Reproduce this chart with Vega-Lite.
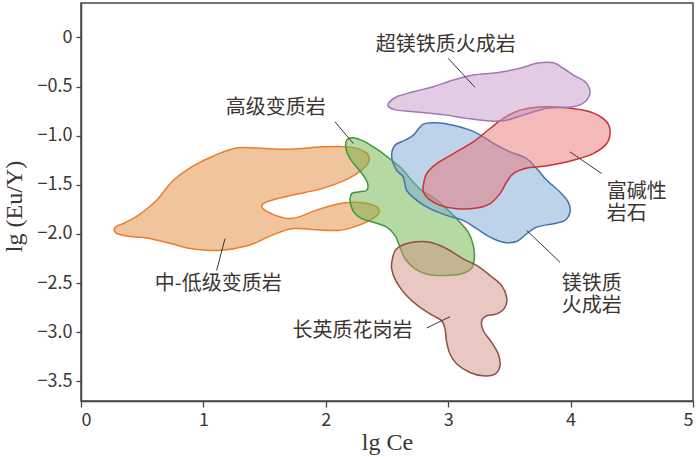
{
  "$schema": "https://vega.github.io/schema/vega-lite/v6.json",
  "width": 612,
  "height": 398,
  "autosize": {"type": "none"},
  "padding": {"left": 81, "top": 3, "right": 7, "bottom": 56},
  "background": "white",
  "config": {
    "view": {"stroke": "#4a4542", "strokeWidth": 1.5},
    "axis": {
      "grid": false,
      "domainColor": "#4a4542",
      "domainWidth": 1.5,
      "tickColor": "#4a4542",
      "tickWidth": 1.3,
      "labelColor": "#3b3632",
      "labelFont": "Noto Sans CJK SC",
      "labelFontSize": 18,
      "titleColor": "#3b3632",
      "titleFont": "Liberation Serif",
      "titleFontSize": 24,
      "titleFontWeight": "normal"
    }
  },
  "datasets": {
    "shapes": [
      {"g": "a_orange", "i": 1, "x": 0.270, "y": -1.957},
      {"g": "a_orange", "i": 2, "x": 0.292, "y": -1.920},
      {"g": "a_orange", "i": 3, "x": 0.359, "y": -1.886},
      {"g": "a_orange", "i": 4, "x": 0.468, "y": -1.811},
      {"g": "a_orange", "i": 5, "x": 0.618, "y": -1.658},
      {"g": "a_orange", "i": 6, "x": 0.741, "y": -1.471},
      {"g": "a_orange", "i": 7, "x": 0.904, "y": -1.318},
      {"g": "a_orange", "i": 8, "x": 1.095, "y": -1.199},
      {"g": "a_orange", "i": 9, "x": 1.285, "y": -1.124},
      {"g": "a_orange", "i": 10, "x": 1.503, "y": -1.131},
      {"g": "a_orange", "i": 11, "x": 1.721, "y": -1.138},
      {"g": "a_orange", "i": 12, "x": 1.967, "y": -1.114},
      {"g": "a_orange", "i": 13, "x": 2.184, "y": -1.114},
      {"g": "a_orange", "i": 14, "x": 2.320, "y": -1.165},
      {"g": "a_orange", "i": 15, "x": 2.355, "y": -1.250},
      {"g": "a_orange", "i": 16, "x": 2.306, "y": -1.335},
      {"g": "a_orange", "i": 17, "x": 2.184, "y": -1.437},
      {"g": "a_orange", "i": 18, "x": 1.967, "y": -1.539},
      {"g": "a_orange", "i": 19, "x": 1.721, "y": -1.607},
      {"g": "a_orange", "i": 20, "x": 1.530, "y": -1.668},
      {"g": "a_orange", "i": 21, "x": 1.476, "y": -1.719},
      {"g": "a_orange", "i": 22, "x": 1.530, "y": -1.778},
      {"g": "a_orange", "i": 23, "x": 1.667, "y": -1.839},
      {"g": "a_orange", "i": 24, "x": 1.775, "y": -1.829},
      {"g": "a_orange", "i": 25, "x": 1.939, "y": -1.750},
      {"g": "a_orange", "i": 26, "x": 2.157, "y": -1.682},
      {"g": "a_orange", "i": 27, "x": 2.347, "y": -1.692},
      {"g": "a_orange", "i": 28, "x": 2.435, "y": -1.750},
      {"g": "a_orange", "i": 29, "x": 2.402, "y": -1.829},
      {"g": "a_orange", "i": 30, "x": 2.266, "y": -1.913},
      {"g": "a_orange", "i": 31, "x": 2.102, "y": -1.964},
      {"g": "a_orange", "i": 32, "x": 1.885, "y": -1.954},
      {"g": "a_orange", "i": 33, "x": 1.721, "y": -1.947},
      {"g": "a_orange", "i": 34, "x": 1.558, "y": -2.015},
      {"g": "a_orange", "i": 35, "x": 1.367, "y": -2.117},
      {"g": "a_orange", "i": 36, "x": 1.122, "y": -2.168},
      {"g": "a_orange", "i": 37, "x": 0.904, "y": -2.151},
      {"g": "a_orange", "i": 38, "x": 0.741, "y": -2.100},
      {"g": "a_orange", "i": 39, "x": 0.550, "y": -2.043},
      {"g": "a_orange", "i": 40, "x": 0.400, "y": -2.025},
      {"g": "a_orange", "i": 41, "x": 0.300, "y": -2.000},

      {"g": "b_green", "i": 1, "x": 2.171, "y": -1.046},
      {"g": "b_green", "i": 2, "x": 2.225, "y": -1.022},
      {"g": "b_green", "i": 3, "x": 2.320, "y": -1.063},
      {"g": "b_green", "i": 4, "x": 2.429, "y": -1.148},
      {"g": "b_green", "i": 5, "x": 2.538, "y": -1.250},
      {"g": "b_green", "i": 6, "x": 2.620, "y": -1.335},
      {"g": "b_green", "i": 7, "x": 2.702, "y": -1.454},
      {"g": "b_green", "i": 8, "x": 2.783, "y": -1.556},
      {"g": "b_green", "i": 9, "x": 2.892, "y": -1.641},
      {"g": "b_green", "i": 10, "x": 3.001, "y": -1.760},
      {"g": "b_green", "i": 11, "x": 3.096, "y": -1.880},
      {"g": "b_green", "i": 12, "x": 3.164, "y": -1.982},
      {"g": "b_green", "i": 13, "x": 3.205, "y": -2.117},
      {"g": "b_green", "i": 14, "x": 3.213, "y": -2.253},
      {"g": "b_green", "i": 15, "x": 3.186, "y": -2.355},
      {"g": "b_green", "i": 16, "x": 3.110, "y": -2.406},
      {"g": "b_green", "i": 17, "x": 2.974, "y": -2.423},
      {"g": "b_green", "i": 18, "x": 2.837, "y": -2.413},
      {"g": "b_green", "i": 19, "x": 2.729, "y": -2.355},
      {"g": "b_green", "i": 20, "x": 2.647, "y": -2.253},
      {"g": "b_green", "i": 21, "x": 2.606, "y": -2.135},
      {"g": "b_green", "i": 22, "x": 2.565, "y": -2.015},
      {"g": "b_green", "i": 23, "x": 2.498, "y": -1.931},
      {"g": "b_green", "i": 24, "x": 2.402, "y": -1.886},
      {"g": "b_green", "i": 25, "x": 2.293, "y": -1.845},
      {"g": "b_green", "i": 26, "x": 2.225, "y": -1.770},
      {"g": "b_green", "i": 27, "x": 2.198, "y": -1.658},
      {"g": "b_green", "i": 28, "x": 2.212, "y": -1.590},
      {"g": "b_green", "i": 29, "x": 2.266, "y": -1.573},
      {"g": "b_green", "i": 30, "x": 2.334, "y": -1.556},
      {"g": "b_green", "i": 31, "x": 2.342, "y": -1.488},
      {"g": "b_green", "i": 32, "x": 2.306, "y": -1.403},
      {"g": "b_green", "i": 33, "x": 2.252, "y": -1.318},
      {"g": "b_green", "i": 34, "x": 2.198, "y": -1.233},
      {"g": "b_green", "i": 35, "x": 2.165, "y": -1.131},

      {"g": "c_brown", "i": 1, "x": 2.579, "y": -2.151},
      {"g": "c_brown", "i": 2, "x": 2.688, "y": -2.090},
      {"g": "c_brown", "i": 3, "x": 2.851, "y": -2.084},
      {"g": "c_brown", "i": 4, "x": 2.988, "y": -2.151},
      {"g": "c_brown", "i": 5, "x": 3.123, "y": -2.253},
      {"g": "c_brown", "i": 6, "x": 3.233, "y": -2.321},
      {"g": "c_brown", "i": 7, "x": 3.342, "y": -2.423},
      {"g": "c_brown", "i": 8, "x": 3.437, "y": -2.526},
      {"g": "c_brown", "i": 9, "x": 3.478, "y": -2.645},
      {"g": "c_brown", "i": 10, "x": 3.464, "y": -2.747},
      {"g": "c_brown", "i": 11, "x": 3.396, "y": -2.814},
      {"g": "c_brown", "i": 12, "x": 3.315, "y": -2.832},
      {"g": "c_brown", "i": 13, "x": 3.274, "y": -2.883},
      {"g": "c_brown", "i": 14, "x": 3.287, "y": -2.985},
      {"g": "c_brown", "i": 15, "x": 3.355, "y": -3.104},
      {"g": "c_brown", "i": 16, "x": 3.409, "y": -3.222},
      {"g": "c_brown", "i": 17, "x": 3.423, "y": -3.342},
      {"g": "c_brown", "i": 18, "x": 3.382, "y": -3.427},
      {"g": "c_brown", "i": 19, "x": 3.287, "y": -3.444},
      {"g": "c_brown", "i": 20, "x": 3.178, "y": -3.410},
      {"g": "c_brown", "i": 21, "x": 3.070, "y": -3.324},
      {"g": "c_brown", "i": 22, "x": 3.015, "y": -3.222},
      {"g": "c_brown", "i": 23, "x": 2.988, "y": -3.104},
      {"g": "c_brown", "i": 24, "x": 2.974, "y": -2.967},
      {"g": "c_brown", "i": 25, "x": 2.947, "y": -2.883},
      {"g": "c_brown", "i": 26, "x": 2.878, "y": -2.832},
      {"g": "c_brown", "i": 27, "x": 2.770, "y": -2.747},
      {"g": "c_brown", "i": 28, "x": 2.661, "y": -2.628},
      {"g": "c_brown", "i": 29, "x": 2.579, "y": -2.492},
      {"g": "c_brown", "i": 30, "x": 2.538, "y": -2.355},
      {"g": "c_brown", "i": 31, "x": 2.547, "y": -2.237},

      {"g": "d_blue", "i": 1, "x": 2.715, "y": -0.995},
      {"g": "d_blue", "i": 2, "x": 2.797, "y": -0.883},
      {"g": "d_blue", "i": 3, "x": 2.906, "y": -0.869},
      {"g": "d_blue", "i": 4, "x": 3.042, "y": -0.893},
      {"g": "d_blue", "i": 5, "x": 3.178, "y": -0.944},
      {"g": "d_blue", "i": 6, "x": 3.287, "y": -1.012},
      {"g": "d_blue", "i": 7, "x": 3.396, "y": -1.097},
      {"g": "d_blue", "i": 8, "x": 3.505, "y": -1.165},
      {"g": "d_blue", "i": 9, "x": 3.641, "y": -1.233},
      {"g": "d_blue", "i": 10, "x": 3.723, "y": -1.335},
      {"g": "d_blue", "i": 11, "x": 3.805, "y": -1.454},
      {"g": "d_blue", "i": 12, "x": 3.913, "y": -1.573},
      {"g": "d_blue", "i": 13, "x": 3.981, "y": -1.676},
      {"g": "d_blue", "i": 14, "x": 3.995, "y": -1.778},
      {"g": "d_blue", "i": 15, "x": 3.954, "y": -1.862},
      {"g": "d_blue", "i": 16, "x": 3.859, "y": -1.896},
      {"g": "d_blue", "i": 17, "x": 3.723, "y": -1.931},
      {"g": "d_blue", "i": 18, "x": 3.641, "y": -1.998},
      {"g": "d_blue", "i": 19, "x": 3.560, "y": -2.077},
      {"g": "d_blue", "i": 20, "x": 3.450, "y": -2.084},
      {"g": "d_blue", "i": 21, "x": 3.342, "y": -2.033},
      {"g": "d_blue", "i": 22, "x": 3.233, "y": -1.947},
      {"g": "d_blue", "i": 23, "x": 3.123, "y": -1.862},
      {"g": "d_blue", "i": 24, "x": 2.988, "y": -1.811},
      {"g": "d_blue", "i": 25, "x": 2.851, "y": -1.743},
      {"g": "d_blue", "i": 26, "x": 2.743, "y": -1.658},
      {"g": "d_blue", "i": 27, "x": 2.661, "y": -1.556},
      {"g": "d_blue", "i": 28, "x": 2.633, "y": -1.420},
      {"g": "d_blue", "i": 29, "x": 2.579, "y": -1.352},
      {"g": "d_blue", "i": 30, "x": 2.538, "y": -1.216},
      {"g": "d_blue", "i": 31, "x": 2.565, "y": -1.097},
      {"g": "d_blue", "i": 32, "x": 2.647, "y": -1.046},

      {"g": "e_red", "i": 1, "x": 2.797, "y": -1.505},
      {"g": "e_red", "i": 2, "x": 2.824, "y": -1.386},
      {"g": "e_red", "i": 3, "x": 2.906, "y": -1.284},
      {"g": "e_red", "i": 4, "x": 3.042, "y": -1.182},
      {"g": "e_red", "i": 5, "x": 3.205, "y": -1.063},
      {"g": "e_red", "i": 6, "x": 3.342, "y": -0.927},
      {"g": "e_red", "i": 7, "x": 3.450, "y": -0.824},
      {"g": "e_red", "i": 8, "x": 3.587, "y": -0.740},
      {"g": "e_red", "i": 9, "x": 3.777, "y": -0.706},
      {"g": "e_red", "i": 10, "x": 3.968, "y": -0.716},
      {"g": "e_red", "i": 11, "x": 4.158, "y": -0.757},
      {"g": "e_red", "i": 12, "x": 4.281, "y": -0.842},
      {"g": "e_red", "i": 13, "x": 4.322, "y": -0.944},
      {"g": "e_red", "i": 14, "x": 4.295, "y": -1.080},
      {"g": "e_red", "i": 15, "x": 4.185, "y": -1.182},
      {"g": "e_red", "i": 16, "x": 4.022, "y": -1.250},
      {"g": "e_red", "i": 17, "x": 3.832, "y": -1.301},
      {"g": "e_red", "i": 18, "x": 3.723, "y": -1.318},
      {"g": "e_red", "i": 19, "x": 3.627, "y": -1.335},
      {"g": "e_red", "i": 20, "x": 3.532, "y": -1.386},
      {"g": "e_red", "i": 21, "x": 3.478, "y": -1.471},
      {"g": "e_red", "i": 22, "x": 3.423, "y": -1.590},
      {"g": "e_red", "i": 23, "x": 3.342, "y": -1.692},
      {"g": "e_red", "i": 24, "x": 3.233, "y": -1.737},
      {"g": "e_red", "i": 25, "x": 3.069, "y": -1.743},
      {"g": "e_red", "i": 26, "x": 2.933, "y": -1.709},
      {"g": "e_red", "i": 27, "x": 2.838, "y": -1.641},
      {"g": "e_red", "i": 28, "x": 2.797, "y": -1.573},

      {"g": "f_purple", "i": 1, "x": 2.511, "y": -0.671},
      {"g": "f_purple", "i": 2, "x": 2.579, "y": -0.604},
      {"g": "f_purple", "i": 3, "x": 2.715, "y": -0.553},
      {"g": "f_purple", "i": 4, "x": 2.878, "y": -0.502},
      {"g": "f_purple", "i": 5, "x": 3.042, "y": -0.434},
      {"g": "f_purple", "i": 6, "x": 3.205, "y": -0.383},
      {"g": "f_purple", "i": 7, "x": 3.396, "y": -0.359},
      {"g": "f_purple", "i": 8, "x": 3.587, "y": -0.314},
      {"g": "f_purple", "i": 9, "x": 3.723, "y": -0.263},
      {"g": "f_purple", "i": 10, "x": 3.859, "y": -0.257},
      {"g": "f_purple", "i": 11, "x": 3.940, "y": -0.314},
      {"g": "f_purple", "i": 12, "x": 4.022, "y": -0.383},
      {"g": "f_purple", "i": 13, "x": 4.118, "y": -0.451},
      {"g": "f_purple", "i": 14, "x": 4.159, "y": -0.553},
      {"g": "f_purple", "i": 15, "x": 4.118, "y": -0.655},
      {"g": "f_purple", "i": 16, "x": 4.022, "y": -0.706},
      {"g": "f_purple", "i": 17, "x": 3.805, "y": -0.722},
      {"g": "f_purple", "i": 18, "x": 3.614, "y": -0.791},
      {"g": "f_purple", "i": 19, "x": 3.478, "y": -0.842},
      {"g": "f_purple", "i": 20, "x": 3.342, "y": -0.852},
      {"g": "f_purple", "i": 21, "x": 3.151, "y": -0.824},
      {"g": "f_purple", "i": 22, "x": 2.988, "y": -0.791},
      {"g": "f_purple", "i": 23, "x": 2.851, "y": -0.773},
      {"g": "f_purple", "i": 24, "x": 2.715, "y": -0.757},
      {"g": "f_purple", "i": 25, "x": 2.579, "y": -0.740},
      {"g": "f_purple", "i": 26, "x": 2.519, "y": -0.712}
    ],
    "labels": [
      {"text": "超镁铁质火成岩", "x": 2.980, "y": -0.077, "a": "c"},
      {"text": "高级变质岩", "x": 1.591, "y": -0.719, "a": "c"},
      {"text": "中-低级变质岩", "x": 1.122, "y": -2.508, "a": "c"},
      {"text": "长英质花岗岩", "x": 2.218, "y": -2.985, "a": "c"},
      {"text": "镁铁质\n火成岩", "x": 3.928, "y": -2.510, "a": "l"},
      {"text": "富碱性\n岩石", "x": 4.295, "y": -1.577, "a": "l"}
    ],
    "leaders": [
      {"x": 2.999, "y": -0.212, "x2": 3.219, "y2": -0.508},
      {"x": 2.075, "y": -0.859, "x2": 2.225, "y2": -1.080},
      {"x": 1.108, "y": -2.372, "x2": 1.176, "y2": -2.049},
      {"x": 2.824, "y": -2.957, "x2": 3.015, "y2": -2.842},
      {"x": 3.913, "y": -2.288, "x2": 3.641, "y2": -1.964},
      {"x": 4.254, "y": -1.386, "x2": 3.995, "y2": -1.165}
    ]
  },
  "layer": [
    {
      "data": {"name": "shapes"},
      "mark": {"type": "line", "interpolate": "cardinal-closed", "fillOpacity": 0.5, "strokeWidth": 1.5},
      "encoding": {
        "x": {"field": "x", "type": "quantitative", "scale": {"domain": [0, 5], "nice": false, "zero": false},
          "axis": {"values": [0, 1, 2, 3, 4, 5], "format": "d", "title": "lg Ce", "tickSize": 6, "labelPadding": 4, "titleBaseline": "alphabetic", "titleY": 48}},
        "y": {"field": "y", "type": "quantitative", "scale": {"domain": [-3.7, 0.35], "nice": false, "zero": false},
          "axis": {"values": [-3.5, -3, -2.5, -2, -1.5, -1, -0.5, 0], "labelExpr": "datum.value === 0 ? '0' : format(datum.value, '.1f')", "title": "lg (Eu/Y)", "tickSize": 5, "labelPadding": 4, "titleBaseline": "alphabetic", "titleX": -60, "titleY": 203, "titleAngle": 270}},
        "fill": {"field": "g", "type": "nominal", "legend": null,
          "scale": {"domain": ["a_orange", "b_green", "c_brown", "d_blue", "e_red", "f_purple"],
                    "range": ["#e18939", "#6db147", "#d19181", "#79a7d5", "#e97373", "#c599c7"]}},
        "stroke": {"field": "g", "type": "nominal", "legend": null,
          "scale": {"domain": ["a_orange", "b_green", "c_brown", "d_blue", "e_red", "f_purple"],
                    "range": ["#ec7d2a", "#3f983a", "#8b5145", "#4572a8", "#cc3030", "#a276b5"]}},
        "order": {"field": "i", "type": "quantitative"}
      }
    },
    {
      "data": {"name": "leaders"},
      "mark": {"type": "rule", "color": "#3b3632", "strokeWidth": 1},
      "encoding": {
        "x": {"field": "x", "type": "quantitative"},
        "y": {"field": "y", "type": "quantitative"},
        "x2": {"field": "x2"},
        "y2": {"field": "y2"}
      }
    },
    {
      "data": {"name": "labels"},
      "transform": [{"filter": "datum.a === 'c'"}],
      "mark": {"type": "text", "font": "Noto Sans CJK SC", "fontSize": 20, "color": "#3b3632", "align": "center", "baseline": "middle"},
      "encoding": {
        "x": {"field": "x", "type": "quantitative"},
        "y": {"field": "y", "type": "quantitative"},
        "text": {"field": "text"}
      }
    },
    {
      "data": {"name": "labels"},
      "transform": [{"filter": "datum.a === 'l'"}],
      "mark": {"type": "text", "font": "Noto Sans CJK SC", "fontSize": 20, "color": "#3b3632", "align": "left", "baseline": "middle", "lineBreak": "\n", "lineHeight": 22},
      "encoding": {
        "x": {"field": "x", "type": "quantitative"},
        "y": {"field": "y", "type": "quantitative"},
        "text": {"field": "text"}
      }
    }
  ]
}
